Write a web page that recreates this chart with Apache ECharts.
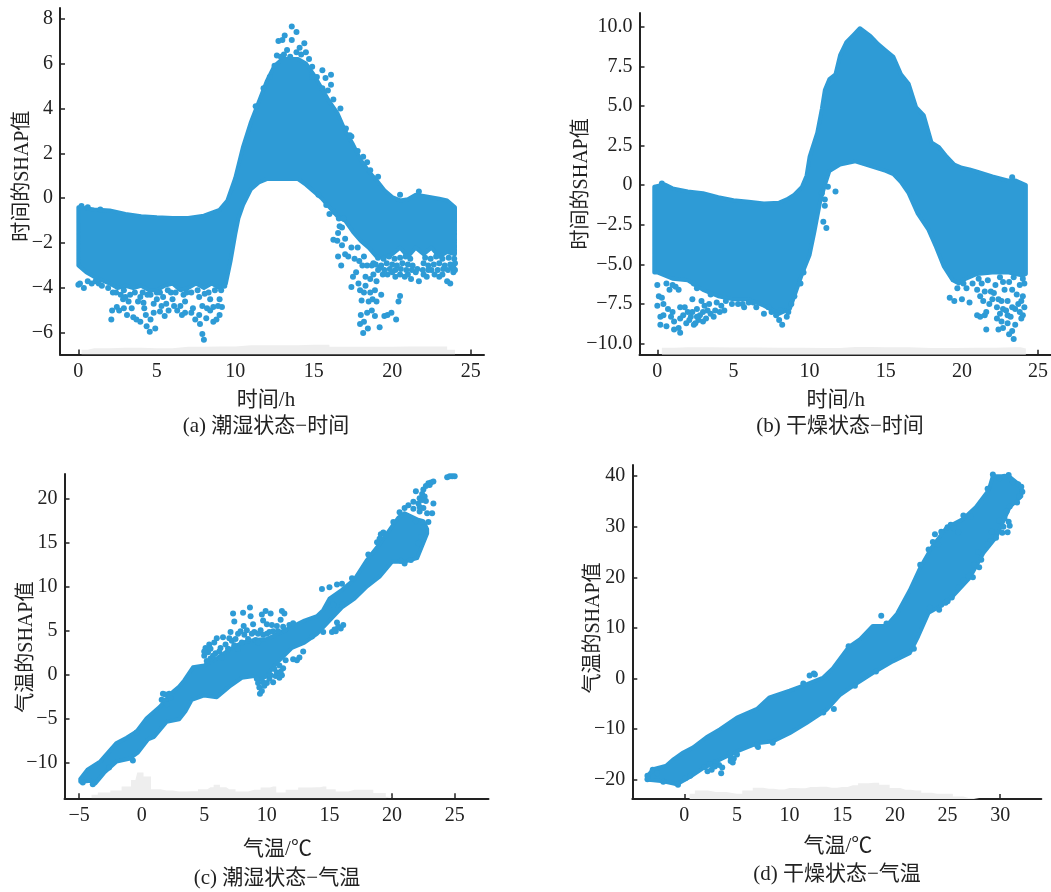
<!DOCTYPE html>
<html><head><meta charset="utf-8">
<style>html,body{margin:0;padding:0;background:#fff}#c{width:1051px;height:892px}</style>
<script src="https://cdn.jsdelivr.net/npm/echarts@6/dist/echarts.min.js"></script>
</head><body><div id="c"></div>
<script>
// ---------- tick labels ----------
const ticksTime = [0,5,10,15,20,25];
const ticksTempC = [-5,0,5,10,15,20,25];
const ticksTempD = [-5,0,5,10,15,20,25,30];
const yTicksA = [-6,-4,-2,0,2,4,6,8];
const yTicksB = [-10,-7.5,-5,-2.5,0,2.5,5,7.5,10];
const yTicksC = [-10,-5,0,5,10,15,20];
const yTicksD = [-20,-10,0,10,20,30,40];

// ---------- dense core of each point cloud: upper edge, then lower edge ----------
const topA = [[0,-.4],[1,-.5],[2,-.55],[3,-.7],[4,-.8],[5,-.85],[6,-.88],[7,-.88],[8,-.78],[9,-.52],[9.5,-.1],[10,.9],[10.5,2.3],[11,3.4],[11.5,4.3],[12,5.2],[12.5,5.9],[13,6.2],[14,6.2],[14.5,6],[15,5.5],[15.5,4.9],[16,4.3],[16.5,3.8],[17,3],[17.5,2.4],[18,1.7],[18.5,1.2],[19,.8],[19.5,.35],[20,.05],[20.5,-.1],[21,-.05],[21.5,.15],[22,.1],[23,-.02],[23.5,-.1],[24,-.4]];
const botA = [[24,-2.5],[23.5,-2.4],[23,-2.6],[22.5,-2.2],[22,-2.5],[21.5,-2.2],[21,-2.6],[20.5,-2.2],[20,-2.5],[19.5,-2.6],[19,-2.6],[18.5,-2.2],[18,-1.9],[17.5,-1.5],[17,-1],[16.5,-.8],[16,-.4],[15.5,0],[15,.3],[14.5,.6],[14,.85],[13,.85],[12,.85],[11.5,.7],[11,.4],[10.5,-.3],[10.2,-.9],[10,-1.6],[9.7,-2.8],[9.4,-3.8],[9,-4],[8.5,-3.8],[8,-4],[7.5,-3.8],[7,-4],[6.5,-4.1],[6,-3.8],[5.5,-3.9],[5,-4.1],[4.5,-4.1],[4,-3.9],[3.5,-4],[3,-3.9],[2.5,-4],[2,-3.8],[1,-3.5],[.5,-3.3],[0,-3]];
const topB = [[-.2,-.1],[.5,.05],[1,-.2],[2,-.4],[3,-.5],[4,-.75],[5,-.95],[6,-1.05],[7,-1.15],[8,-1.1],[8.5,-.9],[9,-.6],[9.5,-.1],[9.8,.6],[10,1.8],[10.5,3.3],[10.8,4.8],[11,6],[11.3,6.7],[11.7,7],[12,8.2],[12.4,9],[12.9,9.5],[13.3,9.9],[14,9.4],[14.5,8.9],[15,8.5],[15.5,8.1],[16,7],[16.5,6.4],[17,4.9],[17.5,4.4],[18,2.7],[18.5,2.4],[19,1.8],[19.5,1.3],[20,1.1],[20.5,1],[21,.85],[22,.55],[23,.3],[23.5,.3],[24.2,0]];
const botB = [[24.2,-5.6],[24,-5.7],[23,-5.5],[22,-5.5],[21,-5.6],[20,-6],[19.8,-6.2],[19.4,-6],[18.8,-5.1],[18.3,-3.9],[17.8,-2.8],[17.1,-1.8],[16.5,-.5],[16,.2],[15.5,.7],[15,.9],[14,1.2],[13,1.5],[12,1.3],[11.3,.9],[11,0],[10.7,-1],[10.5,-2],[10.3,-3],[10,-4.4],[9.5,-5.6],[9,-7],[8.7,-7.8],[8,-8.1],[7,-7.6],[6,-7.2],[5,-7.2],[4,-7],[3,-6.6],[2,-6],[1,-5.9],[0,-5.5],[-.2,-5.5]];
const topC = [[-4.9,-11.9],[-4.3,-10.8],[-3.3,-9.9],[-2,-7.8],[-1.2,-7.2],[-.4,-6.5],[.4,-5],[1.45,-3.7],[2.5,-2],[3,-1.4],[3.4,-.7],[4.1,.8],[5,1],[6,1.8],[7,2.8],[8,3.6],[9,3.9],[10,4],[11,4.7],[12,5.4],[13,6.1],[14,6.6],[14.5,7.3],[15,8.6],[16,9.6],[17,10.8],[18,13],[19,14.8],[20,16.8],[20.5,17.8],[21,18.3],[22,17.6],[22.5,17.4],[22.8,16.5]];
const botC = [[22.8,16],[22,13.2],[21,12.8],[20,12.8],[19,11.1],[18,10],[17,8.6],[16,7.6],[15,6.1],[14,4.6],[13,3.6],[12,3],[11,1.6],[10.5,.8],[10,-.2],[9.5,-.6],[9,-.2],[8,-.4],[7,-1.4],[6,-2.6],[5,-2.4],[4,-2.9],[3.5,-4.2],[3,-5.1],[2,-5.4],[1,-7.1],[.5,-7.4],[-.3,-8.9],[-1,-9.6],[-2,-9.9],[-3,-11.2],[-3.7,-12.4],[-4,-12.1],[-4.9,-12.2]];
const topD = [[-3.4,-19],[-2.95,-17.9],[-1.7,-17.2],[-1,-15.9],[-.1,-14.6],[.85,-13.6],[2.1,-11.6],[3.4,-10],[5,-7.7],[6.9,-6],[8.1,-3.7],[10,-2.4],[11.3,-1.4],[13.2,.2],[14.1,2],[15.6,6.2],[16.7,7.8],[17.9,10.4],[19.2,10.4],[20.2,12.8],[21.4,17.4],[22.4,21.9],[23.5,25.9],[24.9,29.8],[26.5,31.6],[27.7,33.9],[28.9,37.2],[29.3,40],[30.8,40],[32,38]];
const botD = [[32,36],[30.9,33.9],[29.6,27.9],[28.4,24.8],[27.1,19.9],[25.5,16.3],[24.3,14.3],[23.2,13],[22.2,8.3],[21.4,5],[19.8,3.4],[17.9,1.1],[16.2,-1.2],[14.8,-3.2],[13.5,-6.2],[11.6,-8.8],[10,-10.8],[8.45,-12.4],[6.9,-12.8],[5,-14.4],[3.7,-15.7],[1.8,-17.7],[.55,-19.4],[-.7,-20.9],[-2,-20.3],[-3.4,-20]];

// ---------- individually visible points around the core ----------
const ptsA = [[0,-3.85],[.1,-3.8],[.35,-4],[.85,-3.8],[.6,-3.7],[1.1,-3.7],[1.5,-3.9],[1.9,-4],[2.1,-5.4],[2.15,-5],[2.45,-4.85],[2.6,-5],[2.85,-4.5],[3.2,-4.6],[3.1,-5.2],[2.7,-4.3],[3.5,-5.3],[3.7,-5.4],[3.95,-5.5],[4.35,-5.7],[4.55,-5.95],[4.9,-5.8],[4.15,-4.65],[3.95,-4.4],[4.1,-4.2],[3.6,-4.2],[3.3,-4.3],[2.9,-4.1],[2.4,-4.2],[4.6,-4.3],[4.8,-5.1],[5.2,-5.05],[5.5,-5.25],[5.75,-5],[5,-4.5],[5.4,-4.4],[5.2,-4.2],[5.7,-4.1],[6,-4.5],[6.2,-4.2],[6.5,-4.8],[6.7,-4.3],[6.8,-4.6],[7.2,-5.1],[7.45,-5.4],[7.3,-4.9],[7.75,-5.6],[7.9,-6.05],[8,-6.3],[8.15,-5.35],[8.6,-5.5],[8.8,-5.4],[9,-5.2],[9.15,-4.85],[8.6,-4.85],[8.4,-4.5],[8.05,-4.25],[7.7,-4.4],[7.2,-4.2],[9,-4.5],[9.1,-4.1],[8.7,-4.1],[4.3,-5.2],[4.6,-5.4],[6.3,-5],[6.1,-4.8],[5.6,-4.7],[4.4,-4.3],[7.9,-4.8],[8.2,-4.9],[9.3,-3.9],[8.9,-4.8],[8.3,-4.2],[7.6,-4.1],[6.9,-4.2],[5.9,-4.2],[5,-4.2],[3.8,-4.6],[3,-4.4],[2.2,-4.2],[1.3,-3.8],[4.8,-4.7],[6.6,-5.2],[6.8,-5.1],[7.7,-5.2],[8.4,-5],[5.3,-4.8],[4.2,-4.9],[3.4,-4.9],[2.9,-4.9],
[15.3,.15],[15.8,-.3],[16,-.7],[16.3,-.6],[16.6,-.9],[16.9,-.9],[16.8,-1.3],[16.25,-1.85],[16.55,-1.55],[16.65,-1.25],[16.55,-2.6],[16.75,-3],[16.8,-2.1],[17,-1.8],[16.5,-1.9],[17.2,-2.6],[17,-2.5],[17.6,-2.7],[17.4,-2.2],[17.8,-2.2],[17.9,-2.8],[18.1,-3],[17.5,-3.5],[17.4,-3.95],[17.85,-3.8],[17.7,-3.3],[18.05,-4.55],[17.95,-4.1],[18.2,-4.2],[17.95,-5.6],[18.15,-6],[18,-5.2],[18.4,-5.1],[18.2,-5.5],[18.45,-5.8],[18.7,-5],[18.5,-4.6],[18.6,-3.6],[18.9,-5.25],[18.75,-4.5],[19.2,-5.75],[19,-4.6],[19.3,-4.3],[19,-3.7],[19.5,-5.25],[19.95,-5.1],[20.25,-5.4],[19.7,-5.2],[20.4,-4.6],[20.5,-4.35],[18.3,-3.5],[18.8,-3.4],[19.4,-3.4],[19.7,-3.4],[20,-3.3],[20.2,-3.5],[20.5,-3.4],[20.8,-3.5],[21,-3.4],[21.2,-3.6],[21.5,-3.3],[21.7,-3.7],[22,-3.4],[22.2,-3.5],[22.5,-3.2],[22.7,-3.4],[23,-3.5],[23.2,-3.4],[23.5,-3.7],[23.7,-3.8],[23.9,-3.3],[24,-3.2],[23.8,-3.1],[18.4,-3],[18.7,-3],[18.2,-2.6],[18.8,-2.9],[19.2,-3.1],[18.9,-4.1],[18.6,-4.2],[18.3,-3.9],
[19.1,-2.65],[19.45,-2.7],[19.8,-2.6],[20.15,-2.7],[20.5,-2.65],[20.85,-2.6],[21.15,-2.7],[22.1,-2.65],[22.45,-2.7],[22.8,-2.6],[23.2,-2.7],[23.6,-2.65],[23.95,-2.7],[18.95,-2.95],[19.3,-3],[19.65,-2.9],[20,-2.95],[20.3,-3],[20.65,-2.9],[21,-2.95],[21.3,-3],[22,-2.9],[22.3,-3],[22.65,-2.95],[23,-2.9],[23.35,-3],[23.7,-2.95],[24,-2.9],[19.1,-3.2],[19.5,-3.2],[19.85,-3.15],[20.2,-3.2],[20.55,-3.15],[20.9,-3.2],[21.25,-3.2],[21.6,-3.15],[21.95,-3.2],[22.3,-3.2],[22.9,-3.2],[23.25,-3.15],[23.55,-3.2],[23.9,-3.1],
[13.6,7.65],[13.9,7.4],[13.15,7.25],[13,7.05],[12.75,7],[13.6,7.05],[14.4,6.9],[14.5,6.5],[12.65,6.35],[13.3,6.6],[13.9,6.5],[14.2,6.4],[14.9,5.85],[15.55,5.7],[16.1,5.5],[15.75,5.35],[16.1,5.05],[15.55,4.9],[16.25,4.4],[16.7,4],[17.05,3.1],[17.4,2.75],[18.15,1.85],[18.6,1.25],[19.1,.95],[21.7,.3],[20.5,.15],[12.2,5.4],[12.5,5.9],[14.9,5.4],[13.1,6.4],[13.5,6.3],[14.1,6.7],[14.7,6.2],[15.2,5.4],[15.9,4.8],[12.9,6.3],[11.3,4.1],[11.8,4.9],[17.3,2.8],[17.8,2.1],[18.4,1.6],[.2,-.35],[.6,-.4],[1.4,-.5]];
const ptsB = [[0,-6.3],[0,-7.6],[.1,-7],[.2,-8.3],[.2,-8.8],[.3,-7.1],[.4,-7.5],[.4,-8.2],[.6,-8.9],[.8,-6.6],[.9,-8.3],[1,-8],[1.1,-8.6],[1.2,-6.4],[.7,-7.8],[.6,-6.2],[1.4,-9],[1.5,-9.3],[1.1,-9.1],[1.5,-8.4],[1.5,-7.7],[1.8,-7.7],[1.7,-8.2],[2,-8],[2.2,-8.3],[2.5,-8.7],[2.7,-8.5],[2.3,-7.2],[2.6,-7.8],[3,-8],[3.2,-8.4],[3.5,-8.1],[2.9,-7.3],[3.4,-7.5],[3.8,-7.9],[4.2,-7.6],[4.5,-7.3],[4.9,-7.5],[5.3,-7.5],[5.6,-7.5],[6,-7.4],[6.5,-7.7],[7,-8.1],[7.3,-7.7],[7.8,-8.2],[8,-8.5],[8.2,-8.8],[8.6,-8],[8.8,-7.5],[9,-7],[9.4,-6.2],[9.6,-5.5],[2.1,-8.5],[2.4,-8.8],[2.8,-8.2],[3,-8.6],[3.3,-7.9],[3.7,-8.3],[3.9,-7.4],[4.1,-8],[4.4,-7.9],[3.1,-7.6],[2.3,-8],[2.6,-8.3],[1.9,-8.7],[3.5,-6.9],[2.6,-6.5],[2.4,-6.2],[1.4,-6.6],[1,-6.3],[5.7,-7.7],[6.3,-7.4],[7.5,-8],[8.5,-8.3],[8.1,-7.9],
[11,-.9],[11.2,-.1],[11.7,-.4],[11,-1.3],[10.9,-2.3],[11.1,-2.7],[10.8,-.5],[.3,0.1],[23.3,.5],
[19.2,-7.1],[19.5,-7.3],[19.7,-6.5],[20,-7.2],[20.5,-7.4],[20.3,-6.5],[20.7,-6.2],[21,-6.6],[21.2,-7],[21.4,-7.3],[21,-8.2],[21.2,-8.3],[21.5,-8.2],[21.6,-9.1],[21.6,-8],[21.8,-7.5],[22,-7.2],[22.3,-7.7],[22.5,-8.1],[22.7,-7.8],[22.6,-8.6],[22.7,-9],[22.4,-9.1],[23,-8.7],[23.1,-9.4],[23.4,-9.7],[23.3,-9.2],[23.5,-8.8],[23.2,-8.3],[23.5,-7.8],[23.8,-8],[24,-8.2],[23.9,-7.3],[24,-7],[24.1,-6.2],[23.7,-7.5],[23,-7.3],[22.8,-6.6],[22.2,-6.3],[21.7,-6],[23.1,-6.1],[23.8,-6.3],[24,-5.9],[23.4,-5.8],[22.5,-5.8],[21.3,-6.2],[20.1,-6.2],[21.9,-6.7],[22.1,-6.8],[22.4,-7.2],[22.6,-7.3],[22.9,-7.9],[23.3,-7.7],[23,-8.2],[22.3,-8.4],[23.6,-6.9],[23.3,-6.6],[21.5,-6.7],[22.7,-6.1],[21.1,-5.9],[23.9,-8.4],[24.1,-7.7]];
const ptsC = [[-3.9,-12.5],[-4.7,-12.3],[-2.6,-10.6],[-.7,-9.8],[-.4,-6.6],[1.7,-2.2],[1.9,-2.3],[1.6,-2.9],[2.2,-2.2],[2.3,-2.7],[1.9,-3],[2,-3.4],[5,2.1],[5.1,3],[5.3,2.5],[5.5,1.8],[5.4,3.4],[5.8,3.6],[5.9,2.4],[6.3,3],[6.4,1.9],[6.5,4.2],[6.9,2.9],[7.1,4.8],[7.2,3.8],[7.3,6.9],[7.4,6],[7.7,4.6],[7.7,2.9],[8,3.6],[8.1,7],[8.15,5.5],[8.2,4.5],[8.5,4],[8.65,7.6],[8.7,6.6],[8.9,5.7],[9,4.8],[9.1,3.9],[9.5,5],[9.6,6.8],[9.7,6.1],[9.9,7.2],[10,5.7],[10,4.6],[10.3,6.9],[10.5,4.9],[10.8,5.5],[11.2,7.2],[11.4,6.9],[11.1,6.2],[11.8,5.6],[11.4,5],[10.4,5.6],[6,4.1],[5.5,2.9],[7.4,3.3],[9.3,3.6],[5,2.6],[5.2,1.5],[5.7,2.1],[6.2,2.6],[6.7,3.4],[7,4.1],[7.5,4],[7.9,4.9],[8.4,5],[8.8,4.6],[9.3,4.6],[9.7,4.5],[10.2,4.8],[10.9,4.9],[11.3,5.4],[12.1,5.8],
[9.2,-.5],[9.4,-1.5],[9.45,-2.2],[9.6,-1.9],[9.8,-1.3],[10,-1],[10.2,-.5],[10.5,-.9],[10.7,-.2],[11,-.4],[11.2,-.1],[11.3,.7],[11,1],[10.6,.6],[11.5,1.6],[12.1,1.7],[12.4,1.6],[12.6,1.9],[12.9,2.6],[13.6,4.3],[9.7,-.9],[10.3,-.1],[10.8,.2],[9.3,-1],[11.1,.3],
[14.4,9.7],[15,9.9],[15.6,10.2],[16,10.3],[15.3,7.9],[14.5,4.8],[15.2,4.8],[15.4,5.1],[15.7,5.4],[15.9,5.2],[15.6,5.9],[16.1,5.6],[15.5,4.9],[16,7.9],[16.8,10.9],[18.1,13.6],[19,15.4],[19.1,15.9],[19.3,16.1],[19.5,15.8],[18.8,15],[20.1,17.3],[20.6,18.4],[21,18.9],[21.3,19.2],[21.7,18.8],[21.9,17.4],[22.2,18.5],[22.5,18.9],[22.8,18.3],[22.9,17.3],[22.5,16.7],[22.3,15.6],[22.1,14.9],[21.5,13],[21,12.6],[20.7,12.9],
[21.7,19.6],[22.1,19.4],[22.2,20],[22.4,20.5],[22.6,20.2],[22.7,19.7],[22.4,19.8],[22.5,21],[21.9,20.8],[22.2,19],[23,21.5],[22.9,21.7],[23.1,21.8],[23.3,21.9],[22.7,21.4],[23.3,19.4],[23.2,18.3],[24.4,22.4],[24.6,22.5],[24.8,22.5],[25,22.5]];
const ptsD = [[-3.5,-19.2],[-3.5,-19.9],[-3,-18],[-2.6,-18.7],[-2,-20.4],[-.7,-20.7],[-.6,-21],[.1,-19.7],[.55,-19.2],[1.9,-17.5],[2.2,-18.3],[2.6,-18],[2.7,-16.9],[3.3,-17.1],[3.5,-18.7],[3.6,-17.6],[3,-16.5],[2.4,-17],[2.9,-17.4],[4.4,-15.5],[4.4,-16.3],[4.6,-16.6],[4.7,-15.8],[5,-15],[4.3,-14.7],[7,-13.5],[6.9,-13.2],[8.4,-12.7],[11.9,.6],[12.3,1],[12.4,.8],[11.3,-1],[18.7,12.4],[16.2,-1.4],[14.2,-6],[13.2,-6.7],
[22.4,22.5],[23.2,25.5],[23.6,27],[23.8,28.5],[24.1,26.5],[24.4,29],[25,29.9],[25.3,30.4],[25.6,29.7],[26,28.9],[27.2,32],[26.5,32.2],[28.8,37.5],[29.3,40.3],[29.9,39.6],[30.8,40.2],[30.4,39.9],[31.2,38.8],[31.7,38.4],[32,37.9],[32.1,36.9],[31.8,36],[31.6,34.8],[30.9,34],[30.6,33],[30.4,31.7],[30.8,31],[30.9,30.2],[30.7,28.9],[30.2,28.8],[30.3,30],[29.9,31.2],[29.2,29],[29.6,27.8],[29.1,27.2],[28.8,26.5],[27.9,25],[28.2,23.5],[28,22],[27.5,22.5],[27.4,20],[27,20.3],[26.5,19.4],[26,18],[25.4,16],[24.2,13.6],[24.4,14.6],[24.8,15],[25,15.3],[23.3,14],[19.2,10.9],[15.6,6.4],[21.8,5.9],[18.2,1.4]];

// ---------- grey distribution strip along the bottom of each panel ----------
const histA = [[.2,-6.75],[1,-6.68],[3,-6.66],[5,-6.68],[7,-6.62],[9,-6.6],[11,-6.55],[13,-6.55],[15,-6.53],[17,-6.62],[19,-6.62],[21,-6.6],[23,-6.6],[24,-6.75]];
const histB = [[.3,-10.25],[2,-10.22],[5,-10.24],[8,-10.25],[11,-10.26],[13,-10.2],[15,-10.22],[18,-10.26],[21,-10.25],[23.5,-10.22],[24.2,-10.3]];
const histC = [[-4,-13.7],[-3,-13.43],[-2,-13.2],[-1.2,-12.75],[-.5,-12],[-.2,-11.16],[.5,-11.6],[1,-13.05],[2,-13.2],[3,-13.32],[4,-13.3],[5,-13.05],[5.5,-12.83],[6,-12.56],[6.5,-12.83],[7,-13.05],[8,-13.32],[9,-13.13],[10,-12.86],[10.5,-12.75],[11,-13.43],[12,-13.13],[13,-12.86],[14,-12.83],[14.5,-12.75],[15,-13.05],[16,-13.32],[17,-13.13],[18,-13.13],[19,-13.5],[20,-13.9]];
const histD = [[.5,-22.76],[1.5,-22.1],[3,-22.43],[5,-22.76],[6,-22.1],[7,-21.57],[8,-21.77],[9,-21.9],[10,-21.64],[11,-21.7],[12,-21.44],[13,-21.37],[14,-21.57],[15,-21.44],[16,-21.1],[17,-20.7],[18,-20.58],[19,-20.98],[20,-21.64],[21,-21.97],[22,-22.1],[23,-22.56],[24,-22.76],[25,-22.76],[26,-23.3],[27,-23.6],[28,-23.75]];

// ---------- text ----------
const xNames = ['时间/h','时间/h','气温/℃','气温/℃'];
const yNames = ['时间的SHAP值','时间的SHAP值','气温的SHAP值','气温的SHAP值'];
const captions = ['(a) 潮湿状态−时间','(b) 干燥状态−时间','(c) 潮湿状态−气温','(d) 干燥状态−气温'];

const BLUE = '#2E9BD6', GREY = '#EEEEEE', INK = '#222222';
const FONT = '"Liberation Serif","Noto Sans CJK SC",serif';
const panels = [
 {l:60,  t:8,  r:484,  b:354.5, xr:[-1.17,25.85], yr:[-6.96,8.47],  xt:ticksTime,  yt:yTicksA, core:[topA,botA], pts:ptsA, hist:histA, xGap:35, xShift:12, yGap:27, yShift:5,  cap:[266,426], dec:0},
 {l:639.5,t:13,r:1051, b:354.7, xr:[-1.17,25.85], yr:[-10.69,10.86],xt:ticksTime,  yt:yTicksB, core:[topB,botB], pts:ptsB, hist:histB, xGap:35, xShift:19,yGap:48, yShift:0, cap:[840,426], dec:1},
 {l:64.5,t:474,r:488.5,b:798.3, xr:[-6.16,27.7],  yr:[-14.09,22.76],xt:ticksTempC, yt:yTicksC, core:[topC,botC], pts:ptsC, hist:histC, xGap:41, xShift:-2,yGap:28, yShift:-11, cap:[277,878], dec:0},
 {l:632.3,t:465,r:1041.3,b:799, xr:[-4.94,33.9],  yr:[-23.8,42.2],  xt:ticksTempD, yt:yTicksD, core:[topD,botD], pts:ptsD, hist:histD, xGap:37, xShift:-2,yGap:29, yShift:4, cap:[837,874], dec:0}
];
const minus = v => String(v).replace('-', '−');

const grid=[],xAxis=[],yAxis=[],series=[],graphic=[];
panels.forEach((p,i)=>{
  grid.push({left:p.l,top:p.t,width:p.r-p.l,height:p.b-p.t,containLabel:false,outerBoundsMode:'none'});
  xAxis.push({type:'value',gridIndex:i,min:p.xr[0],max:p.xr[1],splitLine:{show:false},nameMoveOverlap:false,
    axisLine:{show:true,onZero:false,lineStyle:{color:INK,width:2}},
    axisTick:{show:true,inside:true,length:5,lineStyle:{color:INK,width:1.5},customValues:p.xt},
    axisLabel:{color:INK,fontFamily:FONT,fontSize:20,margin:7,customValues:p.xt,formatter:minus},
    name:xNames[i],nameLocation:'middle',nameGap:p.xGap,
    nameTextStyle:{color:INK,fontFamily:FONT,fontSize:21,padding:p.xShift>0?[0,p.xShift,0,0]:[0,0,0,-p.xShift]}});
  yAxis.push({type:'value',gridIndex:i,min:p.yr[0],max:p.yr[1],splitLine:{show:false},nameMoveOverlap:false,
    axisLine:{show:true,onZero:false,lineStyle:{color:INK,width:2}},
    axisTick:{show:true,inside:true,length:5,lineStyle:{color:INK,width:1.5},customValues:p.yt},
    axisLabel:{color:INK,fontFamily:FONT,fontSize:20,margin:7,customValues:p.yt,
      formatter:v=>minus(p.dec&&v!==0?v.toFixed(1):v)},
    name:yNames[i],nameLocation:'middle',nameRotate:90,nameGap:p.yGap,
    nameTextStyle:{color:INK,fontFamily:FONT,fontSize:20,padding:p.yShift>0?[0,0,0,2*p.yShift]:[0,-2*p.yShift,0,0]}});
  series.push({type:'line',xAxisIndex:i,yAxisIndex:i,data:p.hist,step:'middle',symbol:'none',silent:true,z:1,
    lineStyle:{width:0},areaStyle:{color:GREY,opacity:1,origin:'start'}});
  const ring=p.core[0].concat(p.core[1]);
  series.push({type:'custom',xAxisIndex:i,yAxisIndex:i,data:ring,z:2,silent:true,clip:true,
    encode:{x:0,y:1},
    renderItem:(params,api)=>{
      if(params.dataIndex!==0) return null;
      return {type:'polygon',shape:{points:ring.map(d=>api.coord(d))},
        style:{fill:BLUE,stroke:BLUE,lineWidth:4,lineJoin:'round'}};
    }});
  series.push({type:'scatter',xAxisIndex:i,yAxisIndex:i,data:p.pts,symbolSize:6,z:3,silent:true,
    itemStyle:{color:BLUE,opacity:1}});
  graphic.push({type:'text',x:p.cap[0],y:p.cap[1],silent:true,
    style:{text:captions[i],fill:INK,font:'21px '+FONT,align:'center',verticalAlign:'middle'}});
});
const chart=echarts.init(document.getElementById('c'),null,{renderer:'canvas'});
chart.setOption({animation:false,backgroundColor:'#fff',grid,xAxis,yAxis,series,graphic});
</script></body></html>
